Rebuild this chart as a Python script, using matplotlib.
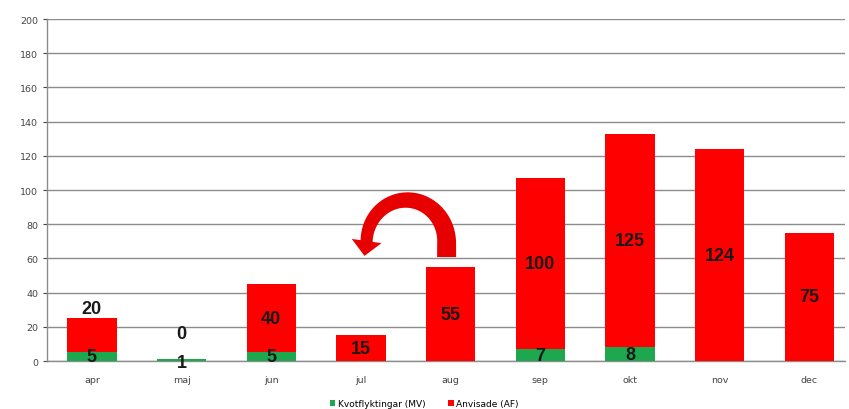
import matplotlib
matplotlib.use("Agg")
import matplotlib.pyplot as plt
import numpy as np
from matplotlib.patches import Polygon

months = ["apr", "maj", "jun", "jul", "aug", "sep", "okt", "nov", "dec"]
kvot = [5, 1, 5, 0, 0, 7, 8, 0, 0]
anvisade = [20, 0, 40, 15, 55, 100, 125, 124, 75]
kvot_labels = ["5", "1", "5", "", "", "7", "8", "", ""]
anv_labels = ["20", "0", "40", "15", "55", "100", "125", "124", "75"]
yticks = [0, 20, 40, 60, 80, 100, 120, 140, 160, 180, 200]

green = "#1DA84F"
red = "#FF0000"

fig = plt.figure(figsize=(8.49, 4.10), dpi=100)
ax = fig.add_axes([0.0554, 0.117, 0.94, 0.834])

x = list(range(len(months)))
w = 0.55
ax.bar(x, kvot, width=w, color=green, label="Kvotflyktingar (MV)", zorder=3)
ax.bar(x, anvisade, width=w, bottom=kvot, color=red, label="Anvisade (AF)", zorder=3)

lab_kw = dict(ha="center", va="center", fontsize=13, fontweight="bold",
              color="#1a1a1a", zorder=5, family="Liberation Sans")
for i in x:
    if kvot_labels[i]:
        yk = kvot[i] / 2 if kvot[i] > 1 else -0.8
        ax.text(i, yk, kvot_labels[i], **lab_kw)
    if i == 0:
        ya = kvot[i] + anvisade[i] + 6
    elif anvisade[i] == 0:
        ya = 16
    else:
        ya = kvot[i] + anvisade[i] / 2
    ax.text(i, ya, anv_labels[i], **lab_kw)

ax.set_ylim(0, 200)
ax.set_xlim(-0.5, 8.4)
ax.set_yticks(yticks)
ax.set_xticks(x)
ax.set_xticklabels(months)
ax.tick_params(axis="both", labelsize=6.8, colors="#444444", length=3, width=0.8)
ax.tick_params(axis="x", length=0, pad=10)
ax.grid(axis="y", color="#8c8c8c", linewidth=1.0, zorder=0)
for s in ["top", "right"]:
    ax.spines[s].set_visible(False)
for s in ["left", "bottom"]:
    ax.spines[s].set_color("#8c8c8c")
    ax.spines[s].set_linewidth(1.0)

# curved arrow annotation (drawn in pixel space, converted to data coords)
C = ax.transData.transform((3.51, 69.6))
rx, ry = 40.0, 42.0
th = np.linspace(0, np.pi, 80)
cl = np.column_stack([C[0] + rx * np.cos(th), C[1] + ry * np.sin(th)])
cl = np.vstack([[C[0] + rx, C[1] - 15], [C[0] + rx, C[1] - 7], cl])
tan = np.gradient(cl, axis=0)
tan /= np.linalg.norm(tan, axis=1)[:, None]
nrm = np.column_stack([-tan[:, 1], tan[:, 0]])
wid = np.linspace(19, 12, len(cl))
left = cl + nrm * (wid[:, None] / 2)
right = cl - nrm * (wid[:, None] / 2)
body = np.vstack([left, right[::-1]])
end = cl[-1] + np.array([0.0, 1.0])
d = np.array([-2.0, -14.0]); d /= np.linalg.norm(d)
p = np.array([-d[1], d[0]])
head = np.array([end + p * 15, end - p * 15, end + d * 15])
inv = ax.transData.inverted()
arrow_color = "#E60000"
ax.add_patch(Polygon(inv.transform(body), closed=True, facecolor=arrow_color,
                     edgecolor="none", zorder=6))
ax.add_patch(Polygon(inv.transform(head), closed=True, facecolor=arrow_color,
                     edgecolor="none", zorder=6))

fig.legend(loc="lower center", bbox_to_anchor=(0.5, -0.018), ncol=2,
           fontsize=6.5, frameon=False, handlelength=0.6, handleheight=0.6,
           handletextpad=0.3, columnspacing=2.5)

fig.savefig("out.png", dpi=100)
